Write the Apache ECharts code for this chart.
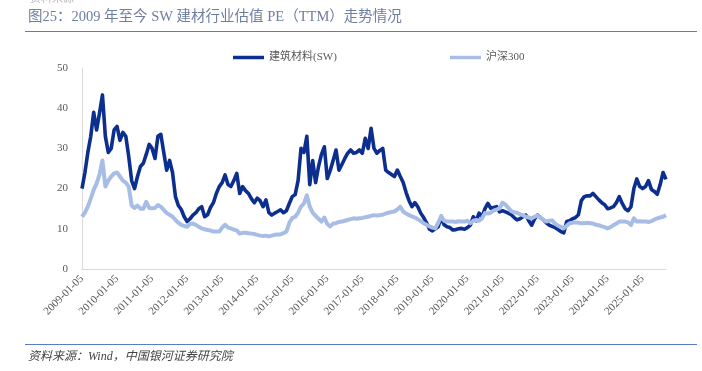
<!DOCTYPE html>
<html>
<head>
<meta charset="utf-8">
<script src="https://cdn.jsdelivr.net/npm/echarts@6/dist/echarts.min.js"></script>
<style>
html,body{margin:0;padding:0;background:#fff;}
#chart{width:702px;height:371px;}
</style>
</head>
<body>
<div id="chart"></div>
<script>
// Monthly observations, 2009-01 .. 2025-09
const startYear = 2009, startMonth = 1, monthCount = 201;
const categories = [];
for (let i = 0; i < monthCount; i++) {
  const y = startYear + Math.floor((startMonth - 1 + i) / 12);
  const m = ((startMonth - 1 + i) % 12) + 1;
  categories.push(y + '-' + String(m).padStart(2, '0') + '-05');
}

const seriesNames = ['建筑材料(SW)', '沪深300'];

const buildingMaterials = [
  20,24,29,33,39,34.6,38.8,43.3,33,29,30,34.6,
  35.5,32,34,33,28,22,20,23,25.5,26.3,28.5,31,
  30,27.5,33,33.5,29,24.6,27,24,18,15.8,14.8,13,
  11.8,12.5,13.4,14,15,15.5,13,13.5,15.3,16.5,18.8,20.5,
  21.5,23.4,21,20.5,22,23.8,18.8,20.5,19.5,18.8,17.5,16.5,
  17.6,17,15.5,17.2,14,13.4,13.9,14.3,14.7,14,14.5,16.3,
  18,18.5,22,30,29,33,21,27,21.5,25.5,28.5,30.4,
  22.5,24.5,27,29.6,24.6,26,27.5,28.8,29.6,28.8,29,29.6,
  28.8,32.5,30,35,30,28.8,29.5,30,24.6,24,23.5,23,
  24.6,23,21.5,19,17,15.5,16.5,15.5,13.9,12.8,11.5,9.9,
  9.5,10,10.5,12.8,11,10.5,10.3,9.7,9.8,10,10.1,9.9,
  10.3,10.9,13,12,13.9,13,15,16.3,15.1,15.3,15.5,14.2,
  14.5,14.2,13.9,13.5,12.8,12.2,12.5,13,13.4,12,10.9,12.5,
  13.4,12.8,12.2,11.5,10.9,10.6,10.3,9.8,9.3,9,11.8,12,
  12.5,12.8,13.5,17,18,18.2,18.2,18.8,18,17.2,16.5,16,
  15,15.2,15.5,16.5,18,16.3,15,14.5,15.5,20,22.4,20.5,
  20,20.5,22,19.8,19.3,18.6,21,24,22.3
];

const csi300 = [
  13,14,15.5,17.5,19.7,21.3,23.5,27,20.5,22,23,23.8,
  24,23,22,21.5,20.5,15.8,15.2,15.8,15,15,16.7,15.2,
  15.1,15.2,15.9,15.5,14.7,13.9,13.5,13,12.2,11.5,11,10.7,
  10.5,11.2,11.3,11,10.5,10.1,9.9,9.7,9.6,9.3,9.3,9.3,
  10.3,11,10.3,10.1,9.8,9.6,8.8,9,9,8.9,8.8,8.7,
  8.5,8.3,8.2,8.3,8.1,8.3,8.5,8.6,8.6,8.9,9.3,11.5,
  12.7,13,14,15.5,16.3,18.3,15.5,14,13.2,12.5,11.8,12.8,
  11.2,10.6,11.3,11.4,11.7,11.8,12,12.2,12.4,12.6,12.5,12.6,
  12.7,12.9,13,13.2,13.4,13.3,13.4,13.5,13.8,14,14.2,14.3,
  14.8,15.5,14.3,13.8,13.4,13.1,12.8,12.4,11.9,11.4,11,10.6,
  10.3,10.1,11.5,13.2,12,11.8,11.8,11.8,11.7,11.9,11.8,11.8,
  12,11.4,12,12.2,12,12.6,13.9,13.8,14,14.5,14.8,15.1,
  16.5,16,15.2,14.4,14.1,14,13.6,13.4,13,12.8,12.6,13,
  13.3,12.8,12.2,11.8,12,12.1,11.3,10.8,10.5,10.1,10.8,11.4,
  11.5,11.6,11.5,11.4,11.4,11.5,11.4,11.3,11,10.9,10.6,10.4,
  10.1,10.4,10.9,11.3,11.8,11.8,11.8,11.6,10.9,12.6,11.8,11.9,
  11.8,11.8,11.7,11.9,12.3,12.6,12.8,13,13.4
];

const yTicks = [0, 10, 20, 30, 40, 50];

const serif = '"Liberation Serif","DejaVu Serif","Noto Sans CJK SC",serif';
const chart = echarts.init(document.getElementById('chart'), null, {renderer: 'canvas'});
chart.setOption({
  animation: false,
  backgroundColor: '#ffffff',
  graphic: [
    {type: 'text', left: 30, top: -8, style: {text: '资料来源', fill: '#bbbbbb', font: '11px "Noto Sans CJK SC"'}},
    {type: 'text', left: 28, top: 10, style: {text: '图25：2009 年至今 SW 建材行业估值 PE（TTM）走势情况', fill: '#6d7ea2', font: '14.5px "Liberation Serif","Noto Sans CJK SC",serif'}},
    {type: 'line', shape: {x1: 25, y1: 31.5, x2: 697, y2: 31.5}, style: {stroke: '#5b7cc4', lineWidth: 1.2}},
    {type: 'line', shape: {x1: 25, y1: 344.5, x2: 697, y2: 344.5}, style: {stroke: '#5b7cc4', lineWidth: 1.2}},
    {type: 'text', left: 28, top: 351, style: {text: '资料来源：Wind，中国银河证券研究院', fill: '#444444', font: 'italic 12px "Liberation Serif","Noto Sans CJK SC",serif'}}
  ],
  legend: [
    {data: [seriesNames[0]], left: 228, top: 47, icon: 'rect', itemWidth: 31, itemHeight: 3.5, itemGap: 5,
     textStyle: {color: '#595959', fontSize: 11, fontFamily: serif}},
    {data: [seriesNames[1]], left: 445, top: 47, icon: 'rect', itemWidth: 31, itemHeight: 3.5, itemGap: 5,
     textStyle: {color: '#595959', fontSize: 11, fontFamily: serif}}
  ],
  grid: {left: 82, right: 36, top: 68, bottom: 102, containLabel: false},
  xAxis: {
    type: 'category',
    data: categories,
    boundaryGap: false,
    axisLine: {show: true, lineStyle: {color: '#d9d9d9', width: 1}},
    axisTick: {show: false},
    axisLabel: {
      interval: 11, rotate: 45, color: '#595959', fontSize: 11, fontFamily: serif, margin: 8
    },
    splitLine: {show: false}
  },
  yAxis: {
    type: 'value',
    min: yTicks[0], max: yTicks[yTicks.length - 1], interval: 10,
    axisLine: {show: true, lineStyle: {color: '#d9d9d9', width: 1}},
    axisTick: {show: false},
    axisLabel: {color: '#595959', fontSize: 11, fontFamily: serif, margin: 14},
    splitLine: {show: false}
  },
  series: [
    {name: seriesNames[0], type: 'line', data: buildingMaterials, symbol: 'none', smooth: false,
     lineStyle: {color: '#0c2f8f', width: 3.6, join: 'round'}, itemStyle: {color: '#0c2f8f'}},
    {name: seriesNames[1], type: 'line', data: csi300, symbol: 'none', smooth: false,
     lineStyle: {color: '#a8bde6', width: 4, join: 'round'}, itemStyle: {color: '#a8bde6'}}
  ]
});
</script>
</body>
</html>
